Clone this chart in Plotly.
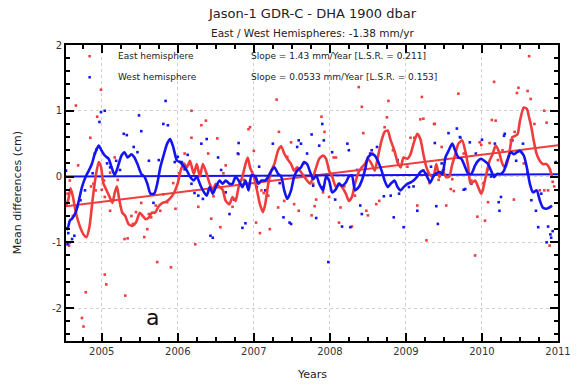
import plotly.graph_objects as go

# ---------------- data ----------------
east_smooth_years = [2004.53, 2004.56, 2004.59, 2004.62, 2004.66, 2004.71, 2004.76, 2004.80, 2004.84, 2004.88,
                     2004.92, 2004.96, 2004.99, 2005.02, 2005.06, 2005.10, 2005.14, 2005.17, 2005.20, 2005.23,
                     2005.27, 2005.31, 2005.35, 2005.40, 2005.45, 2005.50, 2005.54, 2005.58, 2005.62, 2005.66,
                     2005.70, 2005.75, 2005.80, 2005.85, 2005.90, 2005.95, 2006.00, 2006.04, 2006.08,
                     2006.12, 2006.16, 2006.21, 2006.25, 2006.29, 2006.33, 2006.38, 2006.42, 2006.46, 2006.50,
                     2006.55, 2006.59, 2006.63, 2006.68, 2006.72, 2006.76, 2006.80, 2006.85, 2006.89, 2006.92,
                     2006.95, 2007.00, 2007.04, 2007.08, 2007.12, 2007.15, 2007.19, 2007.23, 2007.27, 2007.32,
                     2007.36, 2007.40, 2007.44, 2007.49, 2007.53, 2007.57, 2007.62, 2007.66, 2007.70, 2007.74,
                     2007.78, 2007.82, 2007.86, 2007.91, 2007.95, 2007.99, 2008.03, 2008.08, 2008.12, 2008.16,
                     2008.21, 2008.25, 2008.29, 2008.33, 2008.38, 2008.42, 2008.46, 2008.50, 2008.55, 2008.59,
                     2008.63, 2008.68, 2008.72, 2008.76, 2008.80, 2008.85, 2008.89, 2008.93, 2008.97, 2009.02,
                     2009.06, 2009.10, 2009.15, 2009.19, 2009.23, 2009.27, 2009.32, 2009.36, 2009.40,
                     2009.44, 2009.48, 2009.53, 2009.57, 2009.61, 2009.65, 2009.69, 2009.74, 2009.78, 2009.82,
                     2009.85, 2009.91, 2009.95, 2009.99, 2010.01, 2010.05, 2010.10, 2010.14, 2010.18, 2010.22,
                     2010.27, 2010.31, 2010.35, 2010.40, 2010.44, 2010.47, 2010.50, 2010.55, 2010.59, 2010.62,
                     2010.65, 2010.68, 2010.72, 2010.76, 2010.80, 2010.85, 2010.89, 2010.92]
east_smooth_vals = [-0.45, -0.35, -0.18, -0.30, -0.55, -0.75, -0.88, -0.92, -0.75, -0.35,
                    0.00, 0.22, 0.15, -0.10, -0.20, -0.30, -0.40, -0.25, -0.15, -0.35,
                    -0.55, -0.60, -0.72, -0.75, -0.70, -0.55, -0.60, -0.65, -0.62, -0.55,
                    -0.55, -0.45, -0.40, -0.38, -0.33, -0.25, -0.10, 0.10, 0.20,
                    0.14, 0.24, 0.04, 0.19, 0.00, 0.19, 0.04, -0.11, -0.20, -0.11,
                    -0.16, -0.20, -0.37, -0.42, -0.31, -0.37, -0.16, 0.00, 0.19, 0.29,
                    0.14, 0.00, -0.20, -0.42, -0.54, -0.42, -0.11, 0.09, 0.19, 0.40,
                    0.46, 0.35, 0.27, 0.19, 0.09, 0.14, 0.07, 0.00, -0.06, -0.11,
                    -0.01, 0.14, 0.27, 0.32, 0.27, 0.09, 0.00, -0.16, -0.11, -0.16,
                    -0.26, -0.37, -0.31, -0.11, 0.07, 0.14, 0.19, 0.27, 0.19, 0.09,
                    0.29, 0.55, 0.68, 0.70, 0.55, 0.39, 0.22, 0.14, 0.29, 0.27,
                    0.34, 0.50, 0.65, 0.57, 0.34, 0.14, 0.02, 0.00, 0.19,
                    -0.01, 0.09, -0.01, 0.00, 0.19, 0.34, 0.50, 0.55, 0.39, 0.14,
                    -0.11, -0.06, -0.16, -0.26, -0.21, 0.00, 0.24, 0.34, 0.47, 0.39,
                    0.19, 0.14, 0.29, 0.60, 0.62, 0.65, 0.85, 1.05, 1.03, 0.90,
                    0.75, 0.55, 0.34, 0.24, 0.19, 0.19, 0.12, 0.00]

west_smooth_years = [2004.53, 2004.55, 2004.58, 2004.61, 2004.66, 2004.70, 2004.74, 2004.79, 2004.83, 2004.87,
                     2004.91, 2004.96, 2005.00, 2005.04, 2005.09, 2005.13, 2005.17, 2005.21, 2005.26, 2005.30,
                     2005.34, 2005.39, 2005.43, 2005.47, 2005.52, 2005.56, 2005.60, 2005.64, 2005.69, 2005.73,
                     2005.77, 2005.82, 2005.86, 2005.90, 2005.94, 2005.99, 2006.03, 2006.07, 2006.12,
                     2006.16, 2006.21, 2006.25, 2006.29, 2006.33, 2006.38, 2006.42, 2006.46, 2006.50,
                     2006.55, 2006.59, 2006.63, 2006.68, 2006.72, 2006.76, 2006.80, 2006.85, 2006.89, 2006.93,
                     2006.97, 2007.02, 2007.06, 2007.10, 2007.15, 2007.19, 2007.23, 2007.27, 2007.32, 2007.36,
                     2007.40, 2007.44, 2007.49, 2007.53, 2007.57, 2007.62, 2007.66, 2007.70, 2007.74, 2007.78,
                     2007.82, 2007.86, 2007.91, 2007.95, 2007.99, 2008.03, 2008.08, 2008.12, 2008.16, 2008.21,
                     2008.25, 2008.29, 2008.33, 2008.38, 2008.42, 2008.46, 2008.50, 2008.55, 2008.59, 2008.63,
                     2008.68, 2008.72, 2008.76, 2008.80, 2008.85, 2008.89, 2008.93, 2008.97, 2009.02, 2009.06,
                     2009.10, 2009.15, 2009.19, 2009.23, 2009.27, 2009.32, 2009.36, 2009.40,
                     2009.44, 2009.48, 2009.52, 2009.56, 2009.61, 2009.65, 2009.69, 2009.73, 2009.78, 2009.82,
                     2009.86, 2009.91, 2009.95, 2009.99, 2010.03, 2010.08, 2010.12, 2010.16, 2010.20, 2010.25,
                     2010.29, 2010.33, 2010.38, 2010.42, 2010.46, 2010.50, 2010.55, 2010.59, 2010.63, 2010.67,
                     2010.72, 2010.76, 2010.80, 2010.85, 2010.89, 2010.92]
west_smooth_vals = [-0.77, -0.80, -0.67, -0.64, -0.54, -0.36, -0.16, 0.00, 0.09, 0.19,
                    0.35, 0.47, 0.39, 0.32, 0.27, 0.14, 0.02, 0.14, 0.32, 0.37,
                    0.29, 0.34, 0.29, 0.19, 0.04, 0.00, -0.11, -0.26, -0.26, -0.11,
                    0.14, 0.35, 0.50, 0.57, 0.45, 0.24, 0.22, 0.17, 0.09, 0.00,
                    -0.06, 0.00, -0.11, -0.21, -0.29, -0.16, -0.26, -0.16, -0.06,
                    -0.11, -0.06, -0.11, -0.11, 0.00, -0.06, -0.16, -0.06, -0.21, 0.02,
                    0.00, -0.11, -0.06, -0.06, 0.00, 0.09, 0.14, 0.04, 0.00, -0.21,
                    -0.34, -0.21, 0.00, 0.09, 0.14, 0.22, 0.19, 0.07, -0.04, 0.02,
                    -0.11, -0.21, 0.00, -0.06, -0.24, -0.19, -0.11, -0.14, -0.09, 0.00,
                    0.02, -0.21, -0.16, -0.06, 0.09, 0.29, 0.34, 0.32, 0.24, 0.09,
                    -0.06, -0.16, -0.11, -0.06, -0.16, -0.21, -0.16, -0.11, -0.09, -0.06,
                    0.00, 0.07, 0.09, 0.02, -0.09, 0.00, 0.05, 0.07,
                    0.04, 0.29, 0.39, 0.50, 0.39, 0.29, 0.27, 0.14, 0.04, 0.04,
                    0.17, 0.24, 0.27, 0.24, 0.19, 0.09, -0.01, 0.04, 0.04, 0.09,
                    0.24, 0.37, 0.34, 0.37, 0.39, 0.32, 0.14, -0.11, -0.24, -0.21,
                    -0.36, -0.47, -0.49, -0.47, -0.44, -0.40]

east_dot_years = [2004.99, 2004.66, 2004.94, 2004.85, 2004.69, 2004.58, 2004.55, 2005.03, 2005.00, 2005.04,
                  2005.11, 2005.52, 2005.45, 2005.41, 2005.30, 2005.34, 2005.56, 2005.73, 2005.91, 2005.04,
                  2005.06, 2004.79, 2005.31, 2004.74, 2004.76, 2004.57, 2006.09, 2005.77, 2005.71, 2005.86,
                  2005.97, 2005.62, 2005.65, 2005.81, 2005.17, 2005.11, 2005.15, 2004.89, 2004.92,
                  2007.30, 2006.18, 2006.37, 2006.31, 2006.52, 2006.18, 2006.95, 2006.93, 2007.33, 2007.49,
                  2006.40, 2007.00, 2006.80, 2006.63, 2007.10, 2007.19, 2006.72, 2006.27, 2006.44, 2006.56,
                  2006.23, 2007.03, 2007.08, 2007.21, 2007.32, 2007.40, 2007.53, 2007.59, 2007.76, 2006.16,
                  2007.78,
                  2008.38, 2008.42, 2008.77, 2009.21, 2007.89, 2008.75, 2009.19, 2009.23, 2009.38, 2007.93,
                  2008.44, 2008.72, 2009.06, 2009.11, 2008.05, 2008.08, 2008.89, 2007.80, 2007.82, 2008.14,
                  2008.12, 2008.29, 2008.48, 2008.50, 2008.61, 2008.65, 2009.15, 2009.27, 2007.91, 2007.99,
                  2008.33,
                  2010.62, 2010.16, 2010.48, 2010.46, 2010.60, 2010.64, 2009.69, 2010.82, 2010.85, 2010.13,
                  2010.18, 2009.37, 2010.43, 2009.72, 2009.97, 2009.99, 2010.10, 2009.61, 2009.59, 2009.63,
                  2009.43, 2009.53, 2009.94, 2010.04, 2009.91, 2010.08, 2010.42, 2010.76, 2010.82, 2010.87,
                  2010.89, 2010.93, 2009.86, 2010.27, 2010.35, 2009.47, 2009.80, 2010.55,
                  2004.62, 2004.86, 2005.21, 2005.39, 2005.60, 2005.94, 2006.02, 2006.47, 2006.60, 2006.87,
                  2007.13, 2007.44, 2007.66, 2008.19, 2008.56, 2008.83, 2009.02, 2009.31, 2009.50, 2009.76,
                  2010.02, 2010.21, 2010.38, 2010.69, 2010.95]
east_dot_vals = [1.32, 1.08, 0.91, 0.59, 0.17, -0.06, -0.26, -0.06, -0.20, -0.31,
                 -0.52, -0.40, -0.54, -0.72, -0.95, -0.94, -0.92, -1.30, -1.38, -1.49,
                 -1.64, -1.76, -1.81, -2.15, -2.28, -1.05, 0.35, -0.52, -0.44, -0.39,
                 -0.49, -0.57, -0.62, -0.27, 0.29, 0.06, -0.36, -0.11, -0.21,
                 1.17, 1.00, 0.85, 0.78, 0.58, 0.59, 0.75, 0.72, 0.68, 0.52,
                 0.35, 0.39, 0.34, 0.17, -0.21, -0.29, -0.46, -0.46, -0.64, -0.77,
                 -1.03, -0.70, -0.86, -0.80, -0.47, -0.37, -0.42, -0.52, -0.59, 0.19,
                 -0.11,
                 1.36, 1.06, 1.15, 1.21, 0.91, 0.90, 0.87, 0.88, 0.80, 0.68,
                 0.66, 0.75, 0.59, 0.59, 0.29, 0.29, 0.22, -0.45, -0.35, -0.47,
                 -0.70, -0.76, -0.52, -0.59, -0.42, -0.37, -0.44, -0.97, -0.24, -0.31,
                 -0.29,
                 1.83, 1.44, 1.35, 1.27, 1.30, 1.18, 1.26, 1.00, 0.82, 0.86,
                 0.85, 0.80, 0.68, 0.59, 0.52, 0.48, 0.51, -0.04, -0.19, -0.22,
                 -0.05, -0.44, -0.61, -0.67, -1.20, -0.39, -0.35, -0.21, -0.21, -0.21,
                 -1.05, -0.08, -0.06, 0.40, 0.30, 0.45, 0.10, 0.20,
                 -0.60, -0.15, -0.05, -0.60, -0.80, -0.10, 0.05, -0.30, 0.05, -0.05,
                 -0.25, 0.30, 0.20, -0.15, 0.35, 0.40, 0.15, -0.10, 0.10, 0.35,
                 -0.10, 0.25, 0.55, 0.80, -0.15]

west_dot_years = [2004.99, 2005.04, 2004.97, 2005.49, 2005.84, 2005.81, 2005.87, 2005.29, 2005.33, 2005.52,
                  2005.62, 2005.47, 2004.53, 2004.61, 2004.58, 2004.55, 2004.64, 2004.78, 2004.72, 2004.93,
                  2004.91, 2005.19, 2005.11, 2006.05, 2006.09, 2006.13, 2005.96, 2004.56,
                  2006.38, 2006.31, 2006.53, 2006.80, 2006.79, 2007.25, 2007.59, 2007.62, 2007.57, 2007.76,
                  2006.43, 2006.46, 2006.68, 2006.89, 2006.85, 2007.39, 2007.47, 2007.49, 2007.15, 2007.04,
                  2006.93, 2006.27, 2006.33, 2006.63, 2007.19, 2006.18,
                  2007.90, 2007.92, 2007.86, 2008.23, 2008.25, 2008.03, 2008.55, 2008.53, 2009.38, 2008.89,
                  2007.82, 2008.16, 2008.27, 2008.40, 2008.42, 2008.84, 2008.97, 2009.15, 2007.98, 2008.80,
                  2008.91, 2009.04, 2009.23, 2009.27, 2007.78, 2007.91, 2008.12,
                  2009.56, 2009.67, 2009.71, 2009.84, 2010.00, 2010.17, 2010.30, 2010.29, 2010.45, 2010.54,
                  2010.78, 2010.97, 2009.76, 2009.78, 2009.40, 2009.42, 2010.22, 2010.25, 2010.23, 2010.65,
                  2010.71, 2010.74, 2010.87, 2010.90, 2010.93, 2010.91, 2010.85, 2009.86, 2010.12,
                  2004.68, 2004.88, 2005.07, 2005.24, 2005.42, 2005.68, 2005.75, 2006.00, 2006.22, 2006.57,
                  2006.74, 2007.07, 2007.34, 2007.70, 2008.07, 2008.36, 2008.62, 2008.71, 2009.10, 2009.33,
                  2009.47, 2009.92, 2010.07, 2010.40, 2010.60]
west_dot_vals = [0.98, 1.00, 0.83, 0.93, 1.15, 0.80, 0.78, 0.65, 0.63, 0.69,
                 0.24, 0.37, 0.09, -0.95, -1.00, -1.03, -0.90, -0.21, -0.36, 0.41,
                 0.35, 0.24, 0.14, 0.22, 0.11, 0.33, 0.22, -0.86,
                 0.57, 0.50, 0.29, 0.51, 0.35, 0.50, 0.55, 0.50, 0.45, 0.64,
                 -0.90, -0.93, -0.57, -0.71, -0.78, -0.62, -0.70, -0.72, -0.21, -0.16,
                 -0.11, -0.29, -0.34, -0.24, -0.06, -0.11,
                 0.80, 0.55, 0.47, 0.50, 0.40, 0.37, 0.40, 0.35, 0.51, 0.25,
                 -0.63, -0.76, -0.77, -0.44, -0.57, -0.62, -0.77, -0.52, -1.30, -0.29,
                 -0.26, -0.16, 0.09, 0.04, -0.14, -0.16, -0.11,
                 0.66, 0.73, 0.60, 0.52, 0.56, 0.50, 0.65, 0.62, 0.24, 0.50,
                 -0.26, 0.22, -0.20, -0.19, -0.45, -0.72, -0.39, -0.31, -0.52, -0.36,
                 -0.52, -0.77, -0.76, -0.88, -0.83, -0.93, -1.00, -0.11, 0.00,
                 -0.45, 0.05, 0.20, 0.10, 0.45, -0.40, 0.25, 0.30, -0.25, 0.10,
                 -0.35, 0.15, -0.10, 0.35, -0.35, 0.10, 0.45, -0.30, -0.15, 0.15,
                 0.20, 0.35, 0.10, 0.55, 0.05]

east_fit = {"start": -0.45, "slope": 0.143}     # cm, cm/yr  (1.43 mm/yr)
west_fit = {"start": 0.00, "slope": 0.00533}    # cm, cm/yr  (0.0533 mm/yr)

x_range = [2004.53, 2011.0]
y_range = [-2.5, 2.0]
x_ticks = [2005, 2006, 2007, 2008, 2009, 2010, 2011]
y_ticks = [-2, -1, 0, 1, 2]

RED = "#f03c3c"
BLUE = "#1414f0"

fig = go.Figure()

fig.add_trace(go.Scatter(x=east_dot_years, y=east_dot_vals, mode="markers",
                         marker=dict(color=RED, size=2.6, symbol="square"), showlegend=False))
fig.add_trace(go.Scatter(x=west_dot_years, y=west_dot_vals, mode="markers",
                         marker=dict(color=BLUE, size=2.6, symbol="square"), showlegend=False))

fit_x = [x_range[0], x_range[1]]
fig.add_trace(go.Scatter(x=fit_x,
                         y=[east_fit["start"] + east_fit["slope"] * (v - x_range[0]) for v in fit_x],
                         mode="lines", line=dict(color=RED, width=2), showlegend=False))
fig.add_trace(go.Scatter(x=fit_x,
                         y=[west_fit["start"] + west_fit["slope"] * (v - x_range[0]) for v in fit_x],
                         mode="lines", line=dict(color=BLUE, width=2), showlegend=False))

fig.add_trace(go.Scatter(x=east_smooth_years, y=east_smooth_vals, mode="lines",
                         line=dict(color=RED, width=2.6, shape="spline", smoothing=0.6), showlegend=False))
fig.add_trace(go.Scatter(x=west_smooth_years, y=west_smooth_vals, mode="lines",
                         line=dict(color=BLUE, width=2.6, shape="spline", smoothing=0.6), showlegend=False))

# legend markers (drawn as small points in paper coords)
fig.add_trace(go.Scatter(x=[0.048], y=[0.962], xaxis="x2", yaxis="y2", mode="markers",
                         marker=dict(color=RED, size=2.5, symbol="square"), showlegend=False))
fig.add_trace(go.Scatter(x=[0.048], y=[0.891], xaxis="x2", yaxis="y2", mode="markers",
                         marker=dict(color=BLUE, size=2.5, symbol="square"), showlegend=False))

FONT = "DejaVu Sans"
ann = []
def txt(x, y, s, size, xanchor="left", yanchor="middle", xref="paper", yref="paper", color="#222", angle=0):
    ann.append(dict(x=x, y=y, text=s, showarrow=False, xref=xref, yref=yref, xanchor=xanchor,
                    yanchor=yanchor, textangle=angle, font=dict(family=FONT, size=size, color=color)))

txt(0.101, 0.962, "East hemisphere", 9)
txt(0.101, 0.891, "West hemisphere", 9)
txt(0.371, 0.962, "Slope = 1.43 mm/Year [L.S.R. = 0.211]", 9)
txt(0.371, 0.891, "Slope = 0.0533 mm/Year [L.S.R. = 0.153]", 9)
txt(0.176, 0.078, "a", 22, xanchor="center", color="#111")
txt(0.5, 1.0 + 31/296, "Jason-1 GDR-C - DHA 1900 dbar", 13, xanchor="center")
txt(0.5, 1.0 + 12/296, "East / West Hemispheres: -1.38 mm/yr", 10.5, xanchor="center")
txt(0.5, -33/296, "Years", 11, xanchor="center")
txt(-50/505, 0.5, "Mean differences (cm)", 11, xanchor="center", angle=-90)
fig.update_layout(annotations=ann)

axis_common = dict(showline=True, linecolor="black", linewidth=2, mirror="ticks",
                   ticks="inside", ticklen=8, tickwidth=2, tickcolor="black",
                   showgrid=True, gridcolor="#d0d0d0", griddash="dot", gridwidth=1,
                   zeroline=False, tickfont=dict(family=FONT, size=10, color="#333"))

fig.update_layout(
    width=582, height=385,
    margin=dict(l=66, r=11, t=45, b=44),
    paper_bgcolor="white", plot_bgcolor="white",
    xaxis=dict(range=x_range, tickvals=x_ticks, ticktext=[str(v) for v in x_ticks],
               minor=dict(dtick=0.25, tick0=2005, ticks="inside", ticklen=4, tickwidth=2,
                          tickcolor="black", showgrid=False),
               **axis_common),
    yaxis=dict(range=y_range, tickvals=y_ticks, ticktext=[str(v) for v in y_ticks],
               minor=dict(dtick=0.2, tick0=0, ticks="inside", ticklen=4, tickwidth=2,
                          tickcolor="black", showgrid=False),
               **axis_common),
    xaxis2=dict(range=[0, 1], overlaying="x", visible=False),
    yaxis2=dict(range=[0, 1], overlaying="y", visible=False),
    showlegend=False,
)

fig.write_html("out.html")
